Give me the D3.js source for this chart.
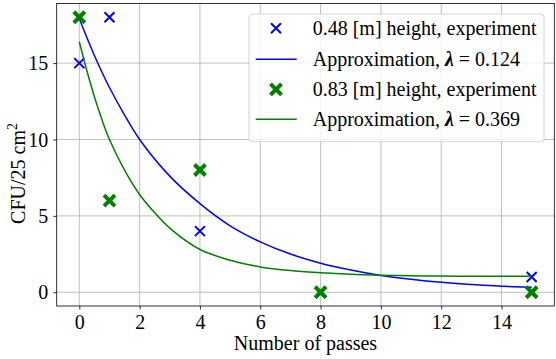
<!DOCTYPE html>
<html><head><meta charset="utf-8">
<script src="https://cdnjs.cloudflare.com/ajax/libs/d3/7.8.5/d3.min.js"></script>
<style>body{margin:0;background:#fff}svg{display:block}</style>
</head><body>
<svg id="c" width="556" height="359"></svg>
<script>
// Data
const blueExpX = [0, 1, 4, 15];
const blueExpY = [15, 18, 4, 1];
const greenExpX = [0, 1, 4, 8, 15];
const greenExpY = [18, 6, 8, 0, 0];
const blueFitX = [0, 0.5, 1, 1.5, 2, 3, 4, 5, 6, 7, 8, 9, 10, 11, 12, 13, 14, 15];
const blueFitY = [17.9, 15.5, 13.4, 11.6, 10.0, 7.6, 5.8, 4.35, 3.3, 2.5, 1.9, 1.45, 1.1, 0.85, 0.65, 0.5, 0.4, 0.32];
const greenFitX = [0, 0.25, 0.5, 0.75, 1, 1.5, 2, 2.5, 3, 4, 5, 6, 7, 8, 9, 10, 11, 12, 13, 14, 15];
const greenFitY = [16.4, 14.5, 12.8, 11.3, 10.0, 8.0, 6.4, 5.2, 4.2, 2.8, 2.1, 1.66, 1.42, 1.28, 1.18, 1.12, 1.08, 1.06, 1.05, 1.05, 1.05];
const xTicks = [0, 2, 4, 6, 8, 10, 12, 14];
const yTicks = [0, 5, 10, 15];
const legendLabels = ["0.48 [m] height, experiment", "Approximation, ", "0.83 [m] height, experiment", "Approximation, "];
const lambdas = [null, "0.124", null, "0.369"];

const svg = d3.select("#c");
const L = 56.7, R = 554.3, T = 3.5, B = 306;
const FS = 20;
const FF = '"Liberation Serif", "Times New Roman", serif';
const x = d3.scaleLinear().domain([-0.75, 15.75]).range([L, R]);
const y = d3.scaleLinear().domain([-0.9, 18.9]).range([B, T]);

// grid
const g = svg.append("g");
g.selectAll(".gx").data(xTicks).enter().append("line")
  .attr("x1", d => x(d)).attr("x2", d => x(d)).attr("y1", T).attr("y2", B)
  .attr("stroke", "#b0b0b0").attr("stroke-width", 0.8);
g.selectAll(".gy").data(yTicks).enter().append("line")
  .attr("y1", d => y(d)).attr("y2", d => y(d)).attr("x1", L).attr("x2", R)
  .attr("stroke", "#b0b0b0").attr("stroke-width", 0.8);

// axes
const xAxis = svg.append("g").attr("transform", `translate(0,${B})`)
  .call(d3.axisBottom(x).tickValues(xTicks).tickSize(3.5).tickPadding(4).tickFormat(d3.format("d")));
const yAxis = svg.append("g").attr("transform", `translate(${L},0)`)
  .call(d3.axisLeft(y).tickValues(yTicks).tickSize(3.5).tickPadding(5).tickFormat(d3.format("d")));
[xAxis, yAxis].forEach(a => {
  a.select(".domain").remove();
  a.selectAll("line").attr("stroke", "#000").attr("stroke-width", 0.8);
  a.selectAll("text").attr("font-size", FS).attr("fill", "#000").style("font-family", FF);
});
xAxis.selectAll("text").attr("y", 22.5).attr("dy", 0);
yAxis.selectAll("text").attr("dy", "0.33em");

// frame
svg.append("rect").attr("x", L).attr("y", T).attr("width", R - L).attr("height", B - T)
  .attr("fill", "none").attr("stroke", "#000").attr("stroke-width", 0.8);

// clip
svg.append("clipPath").attr("id", "clip").append("rect")
  .attr("x", L).attr("y", T).attr("width", R - L).attr("height", B - T);
const plot = svg.append("g").attr("clip-path", "url(#clip)");

const line = d3.line().x(d => x(d[0])).y(d => y(d[1])).curve(d3.curveCatmullRom.alpha(0.5));
const blueFit = blueFitX.map((v, i) => [v, blueFitY[i]]);
const greenFit = greenFitX.map((v, i) => [v, greenFitY[i]]);

function xMark(sel, cx, cy, s, color, w) {
  sel.append("path")
    .attr("d", `M${cx - s},${cy - s}L${cx + s},${cy + s}M${cx - s},${cy + s}L${cx + s},${cy - s}`)
    .attr("stroke", color).attr("stroke-width", w).attr("fill", "none");
}

plot.append("path").datum(blueFit).attr("d", line).attr("fill", "none").attr("stroke", "blue").attr("stroke-width", 1.5);
blueExpX.forEach((v, i) => xMark(plot, x(v), y(blueExpY[i]), 5, "blue", 2));
plot.append("path").datum(greenFit).attr("d", line).attr("fill", "none").attr("stroke", "green").attr("stroke-width", 1.5);
greenExpX.forEach((v, i) => xMark(plot, x(v), y(greenExpY[i]), 5.5, "green", 4));

// axis labels
svg.append("text").attr("x", (L + R) / 2).attr("y", 350).attr("text-anchor", "middle")
  .attr("font-size", FS).style("font-family", FF).text("Number of passes");
const yl = svg.append("text").attr("transform", "translate(25,173.5) rotate(-90)").attr("text-anchor", "middle")
  .attr("font-size", FS).style("font-family", FF);
yl.append("tspan").text("CFU/25 cm");
yl.append("tspan").attr("font-size", 14).attr("dy", -8).text("2");

// legend
const lg = svg.append("g");
lg.append("rect").attr("x", 249).attr("y", 14).attr("width", 295).attr("height", 127.7)
  .attr("rx", 3).attr("fill", "#fff").attr("fill-opacity", 0.8).attr("stroke", "#cccccc").attr("stroke-width", 0.8);
const rowY = [28.3, 59.3, 89.3, 119.3];
const types = ["bm", "bl", "gm", "gl"];
types.forEach((t, i) => {
  const cy = rowY[i];
  if (t === "bm") xMark(lg, 276, cy, 5, "blue", 2);
  if (t === "gm") xMark(lg, 276, cy, 5.5, "green", 4);
  if (t === "bl") lg.append("line").attr("x1", 255.7).attr("x2", 296.7).attr("y1", cy).attr("y2", cy).attr("stroke", "blue").attr("stroke-width", 1.5);
  if (t === "gl") lg.append("line").attr("x1", 255.7).attr("x2", 296.7).attr("y1", cy).attr("y2", cy).attr("stroke", "green").attr("stroke-width", 1.5);
  const tx = lg.append("text").attr("x", 312.7).attr("y", cy + 7).attr("font-size", FS).style("font-family", FF);
  tx.append("tspan").text(legendLabels[i]);
  if (lambdas[i]) {
    tx.append("tspan").attr("font-style", "italic").attr("font-weight", "bold").text("λ");
    tx.append("tspan").text(" = " + lambdas[i]);
  }
});
</script>
</body></html>
